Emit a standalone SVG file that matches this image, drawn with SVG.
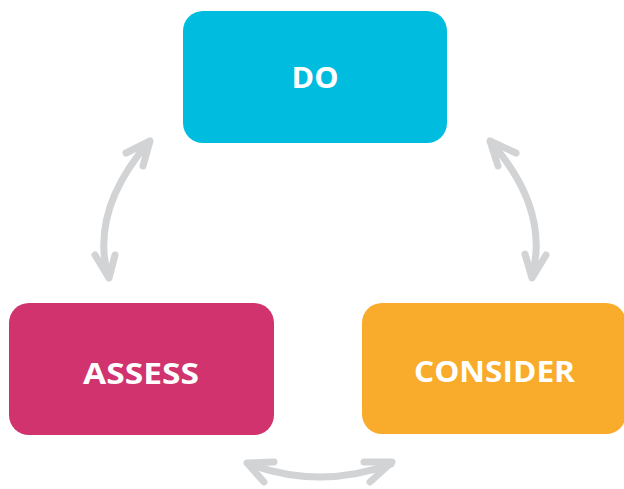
<svg xmlns="http://www.w3.org/2000/svg" width="624" height="489" viewBox="0 0 624 489">
<style>
.lbl{font-family:"Open Sans","Liberation Sans",sans-serif;font-weight:700;font-size:28px;fill:#ffffff;text-anchor:middle}
.arc{fill:none;stroke:#d1d3d5;stroke-width:7;stroke-linecap:round;stroke-linejoin:round}
</style>
<rect width="624" height="489" fill="#ffffff"/>
<g id="do">
<rect x="183" y="11" width="264" height="132" rx="20" fill="#00bde0"/>
<text class="lbl" x="315" y="88" textLength="47" lengthAdjust="spacingAndGlyphs">DO</text>
</g>
<g id="assess">
<rect x="9" y="303" width="265" height="132" rx="20" fill="#d0336e"/>
<text class="lbl" x="141" y="384" textLength="116" lengthAdjust="spacingAndGlyphs">ASSESS</text>
</g>
<g id="consider">
<rect x="362" y="303" width="264" height="131" rx="20" fill="#f9ab2b"/>
<text class="lbl" x="494.5" y="382" textLength="161" lengthAdjust="spacingAndGlyphs">CONSIDER</text>
</g>
<g id="connectors">
<path class="arc" d="M149,142 Q90,210 108,276"/>
<path class="arc" d="M126,153 L150,141 L143,166"/>
<path class="arc" d="M95,255 L109,278 L115,255"/>
<path class="arc" d="M491,142 Q550,210 532,276"/>
<path class="arc" d="M516,153 L490,141 L498,166"/>
<path class="arc" d="M525,254 L532,278 L546,255"/>
<path class="arc" d="M249,464 Q320,490 391,464"/>
<path class="arc" d="M274,462 L247,463 L264,482"/>
<path class="arc" d="M364,462 L392,462 L370,482"/>
</g>
</svg>
